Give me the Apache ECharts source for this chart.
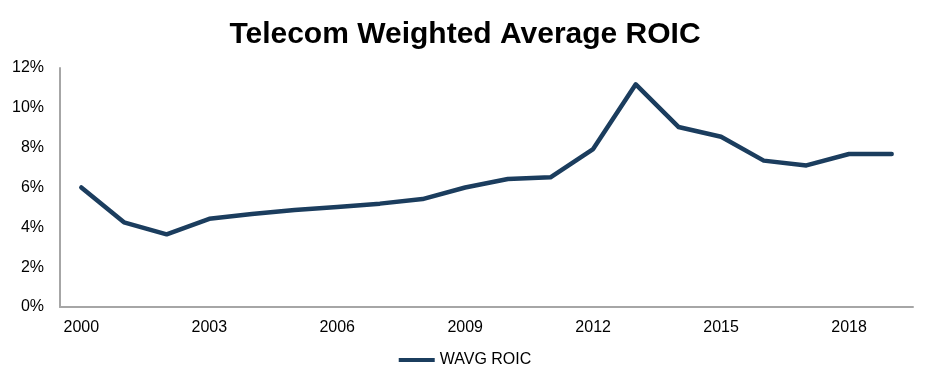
<!DOCTYPE html>
<html><head><meta charset="utf-8">
<script src="https://cdn.jsdelivr.net/npm/echarts@6/dist/echarts.min.js"></script>
<style>html,body{margin:0;padding:0;background:#fff}#c{width:930px;height:385px}</style>
</head><body><div id="c"></div>
<script>
const years = ['2000','2001','2002','2003','2004','2005','2006','2007','2008','2009','2010','2011','2012','2013','2014','2015','2016','2017','2018','2019'];
const roic = [6.0,4.25,3.65,4.43,4.67,4.87,5.02,5.19,5.42,6.0,6.43,6.51,7.93,11.18,9.04,8.55,7.35,7.11,7.68,7.68];
const yTicks = [0,2,4,6,8,10,12];
const seriesName = 'WAVG ROIC';
const chart = echarts.init(document.getElementById('c'));
chart.setOption({
  backgroundColor:'#fff',
  animation:false,
  title:{text:'Telecom Weighted Average ROIC',left:'center',top:15,
    textStyle:{fontFamily:'Liberation Sans',fontWeight:'bold',fontSize:30,color:'#000'}},
  legend:{bottom:12,left:'center',itemWidth:36,itemHeight:4,icon:'rect',
    textStyle:{fontFamily:'Liberation Sans',fontSize:16,color:'#000'},itemGap:2,
    data:[seriesName]},
  grid:{left:60,right:17,top:68,bottom:78},
  xAxis:{type:'category',data:years,boundaryGap:true,
    axisLine:{lineStyle:{color:'#a6a6a6',width:2}},axisTick:{show:false},
    axisLabel:{interval:2,fontFamily:'Liberation Sans',fontSize:16,color:'#000',margin:13}},
  yAxis:{type:'value',min:yTicks[0],max:yTicks[yTicks.length-1],interval:2,
    axisLine:{show:true,lineStyle:{color:'#a6a6a6',width:2}},axisTick:{show:false},
    splitLine:{show:false},
    axisLabel:{formatter:'{value}%',fontFamily:'Liberation Sans',fontSize:16,color:'#000',margin:16}},
  series:[{name:seriesName,type:'line',data:roic,symbol:'none',
    lineStyle:{color:'#1b3d5e',width:4.5,cap:'round',join:'round'},itemStyle:{color:'#1b3d5e'}}]
});
</script></body></html>
